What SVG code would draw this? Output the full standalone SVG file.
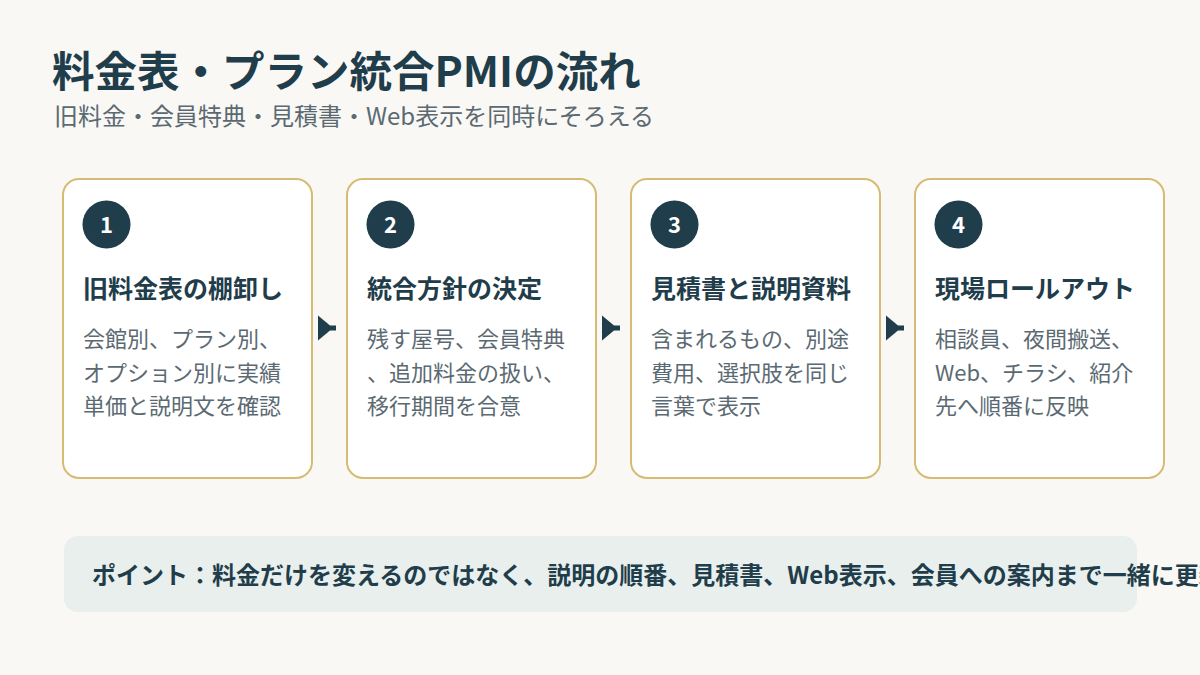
<svg xmlns="http://www.w3.org/2000/svg" width="1200" height="675" viewBox="0 0 1200 675">
<style>
.t{font-family:"Noto Sans CJK JP","Noto Sans",sans-serif}
.h1{font-size:42.5px;font-weight:700;fill:#1F3D4A}
.sub{font-size:24px;fill:#5B6A72}
.card{fill:#FFFFFF;stroke:#D6BC72;stroke-width:2}
.num{fill:#1F3D4A}
.numt{font-size:22px;font-weight:700;fill:#FFFFFF;text-anchor:middle}
.ct{font-size:25px;font-weight:700;fill:#1F3D4A}
.cb{font-size:22px;fill:#5B6A72}
.arr{fill:#1F3D4A}
.note{fill:#E8EFED}
.nt{font-size:24px;font-weight:700;fill:#1F3D4A}
</style>
<rect width="1200" height="675" fill="#F9F8F4"/>
<g id="title">
<text class="t h1" x="52" y="87">料金表・プラン統合PMIの流れ</text>
<text class="t sub" x="54" y="125">旧料金・会員特典・見積書・Web表示を同時にそろえる</text>
</g>
<g id="connectors">
<g transform="translate(318,328)"><polygon class="arr" points="0,-12.5 0,12.5 15,0"/><rect class="arr" x="12" y="-2.5" width="6" height="5"/></g>
<g transform="translate(602,328)"><polygon class="arr" points="0,-12.5 0,12.5 15,0"/><rect class="arr" x="12" y="-2.5" width="6" height="5"/></g>
<g transform="translate(886,328)"><polygon class="arr" points="0,-12.5 0,12.5 15,0"/><rect class="arr" x="12" y="-2.5" width="6" height="5"/></g>
</g>
<g id="step1">
<rect class="card" x="63" y="179" width="249" height="299" rx="16"/>
<circle class="num" cx="106.5" cy="224.5" r="24"/>
<text class="t numt" x="106.5" y="232.5">1</text>
<text class="t ct" x="83" y="298">旧料金表の棚卸し</text>
<text class="t cb" x="83" y="347">会館別、プラン別、</text>
<text class="t cb" x="83" y="381">オプション別に実績</text>
<text class="t cb" x="83" y="414">単価と説明文を確認</text>
</g>
<g id="step2">
<rect class="card" x="347" y="179" width="249" height="299" rx="16"/>
<circle class="num" cx="390.5" cy="224.5" r="24"/>
<text class="t numt" x="390.5" y="232.5">2</text>
<text class="t ct" x="367" y="298">統合方針の決定</text>
<text class="t cb" x="367" y="347">残す屋号、会員特典</text>
<text class="t cb" x="367" y="381">、追加料金の扱い、</text>
<text class="t cb" x="367" y="414">移行期間を合意</text>
</g>
<g id="step3">
<rect class="card" x="631" y="179" width="249" height="299" rx="16"/>
<circle class="num" cx="674.5" cy="224.5" r="24"/>
<text class="t numt" x="674.5" y="232.5">3</text>
<text class="t ct" x="651" y="298">見積書と説明資料</text>
<text class="t cb" x="651" y="347">含まれるもの、別途</text>
<text class="t cb" x="651" y="381">費用、選択肢を同じ</text>
<text class="t cb" x="651" y="414">言葉で表示</text>
</g>
<g id="step4">
<rect class="card" x="915" y="179" width="249" height="299" rx="16"/>
<circle class="num" cx="958.5" cy="224.5" r="24"/>
<text class="t numt" x="958.5" y="232.5">4</text>
<text class="t ct" x="935" y="298">現場ロールアウト</text>
<text class="t cb" x="935" y="347">相談員、夜間搬送、</text>
<text class="t cb" x="935" y="381">Web、チラシ、紹介</text>
<text class="t cb" x="935" y="414">先へ順番に反映</text>
</g>
<g id="note">
<rect class="note" x="64" y="536" width="1073" height="76" rx="14"/>
<text class="t nt" x="92" y="584">ポイント：料金だけを変えるのではなく、説明の順番、見積書、Web表示、会員への案内まで一緒に更新する</text>
</g>
</svg>
